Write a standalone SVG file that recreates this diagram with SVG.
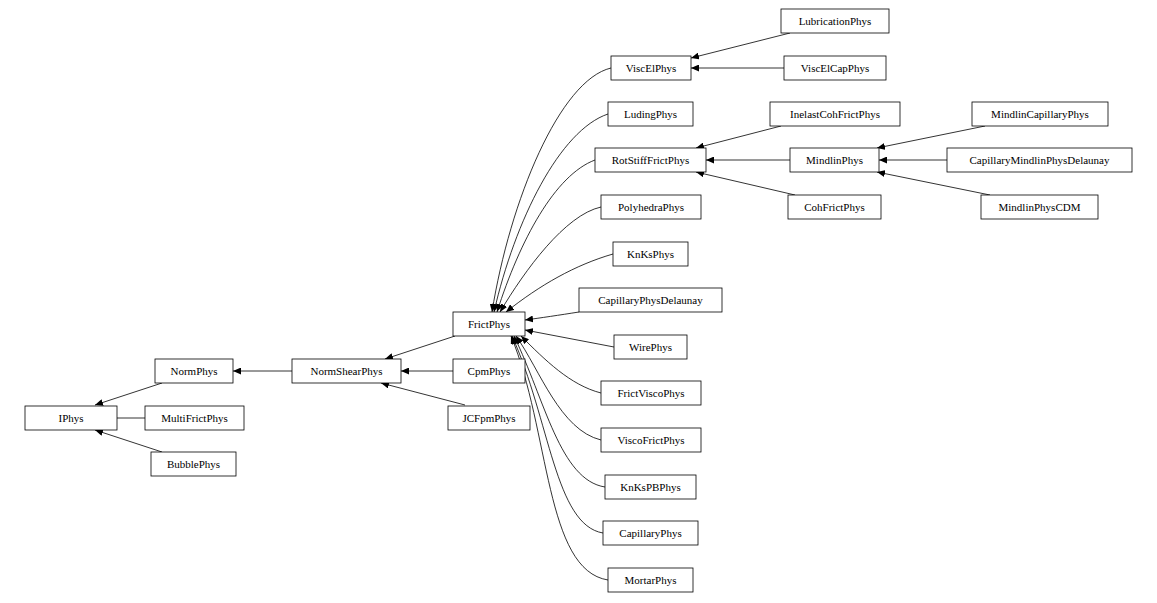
<svg xmlns="http://www.w3.org/2000/svg" width="1157" height="603" viewBox="0 0 1157 603">
<style>
rect{fill:#fff;stroke:#000;stroke-width:0.8}
text{font-family:"Liberation Serif",serif;font-size:11px;text-anchor:middle;dominant-baseline:central}
path{fill:none;stroke:#000;stroke-width:0.8;marker-end:url(#a)}
</style>
<defs><marker id="a" markerWidth="9" markerHeight="7" refX="8" refY="3.5" orient="auto" markerUnits="userSpaceOnUse"><polygon points="0,0 8,3.5 0,7" fill="#000"/></marker></defs>
<rect width="1157" height="603" style="fill:#fff;stroke:none"/>
<g id="connectors">
<path d="M162,383 L95,405"/>
<path d="M145,418 L95,418"/>
<path d="M162,452 L95,430"/>
<path d="M292,371 L233,371"/>
<path d="M453,371 L401,371"/>
<path d="M465,405 L381,383"/>
<path d="M455,336 L385,359"/>
<path d="M611,68 C560,80 510,200 492,312"/>
<path d="M608,114 C560,130 515,220 494,312"/>
<path d="M595,160 C555,175 520,240 497,312"/>
<path d="M601,207 C565,215 525,270 500,312"/>
<path d="M613,254 C575,265 540,285 506,312"/>
<path d="M579,312 C560,315 540,318 525,320"/>
<path d="M614,347 L525,330"/>
<path d="M601,393 C570,385 545,360 521,336"/>
<path d="M601,440 C560,430 540,370 516,336"/>
<path d="M605,487 C560,480 545,400 514,336"/>
<path d="M603,533 C555,525 550,420 512,336"/>
<path d="M608,580 C545,570 550,430 511,336"/>
<path d="M790,33 L691,58"/>
<path d="M784,68 L691,68"/>
<path d="M781,126 L696,148"/>
<path d="M790,160 L706,160"/>
<path d="M795,195 L696,172"/>
<path d="M985,126 L877,148"/>
<path d="M947,160 L879,160"/>
<path d="M990,195 L877,172"/>
</g>
<g id="IPhys"><rect x="25" y="406" width="92" height="24"/><text x="71" y="418">IPhys</text></g>
<g id="NormPhys"><rect x="155" y="359" width="78" height="24"/><text x="194" y="371">NormPhys</text></g>
<g id="MultiFrictPhys"><rect x="145" y="406" width="99" height="24"/><text x="194.5" y="418">MultiFrictPhys</text></g>
<g id="BubblePhys"><rect x="151" y="452" width="85" height="24"/><text x="193.5" y="464">BubblePhys</text></g>
<g id="NormShearPhys"><rect x="292" y="359" width="109" height="24"/><text x="346.5" y="371">NormShearPhys</text></g>
<g id="CpmPhys"><rect x="453" y="359" width="72" height="24"/><text x="489" y="371">CpmPhys</text></g>
<g id="JCFpmPhys"><rect x="448" y="406" width="82" height="24"/><text x="489" y="418">JCFpmPhys</text></g>
<g id="FrictPhys"><rect x="453" y="312" width="72" height="24"/><text x="489" y="324">FrictPhys</text></g>
<g id="ViscElPhys"><rect x="611" y="56" width="80" height="24"/><text x="651" y="68">ViscElPhys</text></g>
<g id="LudingPhys"><rect x="608" y="102" width="85" height="24"/><text x="650.5" y="114">LudingPhys</text></g>
<g id="RotStiffFrictPhys"><rect x="595" y="148" width="111" height="24"/><text x="650.5" y="160">RotStiffFrictPhys</text></g>
<g id="PolyhedraPhys"><rect x="601" y="195" width="100" height="24"/><text x="651" y="207">PolyhedraPhys</text></g>
<g id="KnKsPhys"><rect x="613" y="242" width="75" height="24"/><text x="650.5" y="254">KnKsPhys</text></g>
<g id="CapillaryPhysDelaunay"><rect x="579" y="288" width="143" height="24"/><text x="650.5" y="300">CapillaryPhysDelaunay</text></g>
<g id="WirePhys"><rect x="614" y="335" width="73" height="24"/><text x="650.5" y="347">WirePhys</text></g>
<g id="FrictViscoPhys"><rect x="601" y="381" width="100" height="24"/><text x="651" y="393">FrictViscoPhys</text></g>
<g id="ViscoFrictPhys"><rect x="601" y="428" width="100" height="24"/><text x="651" y="440">ViscoFrictPhys</text></g>
<g id="KnKsPBPhys"><rect x="605" y="475" width="91" height="24"/><text x="650.5" y="487">KnKsPBPhys</text></g>
<g id="CapillaryPhys"><rect x="603" y="521" width="95" height="24"/><text x="650.5" y="533">CapillaryPhys</text></g>
<g id="MortarPhys"><rect x="608" y="568" width="85" height="24"/><text x="650.5" y="580">MortarPhys</text></g>
<g id="LubricationPhys"><rect x="781" y="9" width="108" height="24"/><text x="835" y="21">LubricationPhys</text></g>
<g id="ViscElCapPhys"><rect x="784" y="56" width="102" height="24"/><text x="835" y="68">ViscElCapPhys</text></g>
<g id="InelastCohFrictPhys"><rect x="770" y="102" width="130" height="24"/><text x="835" y="114">InelastCohFrictPhys</text></g>
<g id="MindlinPhys"><rect x="790" y="148" width="89" height="24"/><text x="834.5" y="160">MindlinPhys</text></g>
<g id="CohFrictPhys"><rect x="788" y="195" width="93" height="24"/><text x="834.5" y="207">CohFrictPhys</text></g>
<g id="MindlinCapillaryPhys"><rect x="972" y="102" width="136" height="24"/><text x="1040" y="114">MindlinCapillaryPhys</text></g>
<g id="CapillaryMindlinPhysDelaunay"><rect x="947" y="148" width="185" height="24"/><text x="1039.5" y="160">CapillaryMindlinPhysDelaunay</text></g>
<g id="MindlinPhysCDM"><rect x="981" y="195" width="117" height="24"/><text x="1039.5" y="207">MindlinPhysCDM</text></g>
</svg>
